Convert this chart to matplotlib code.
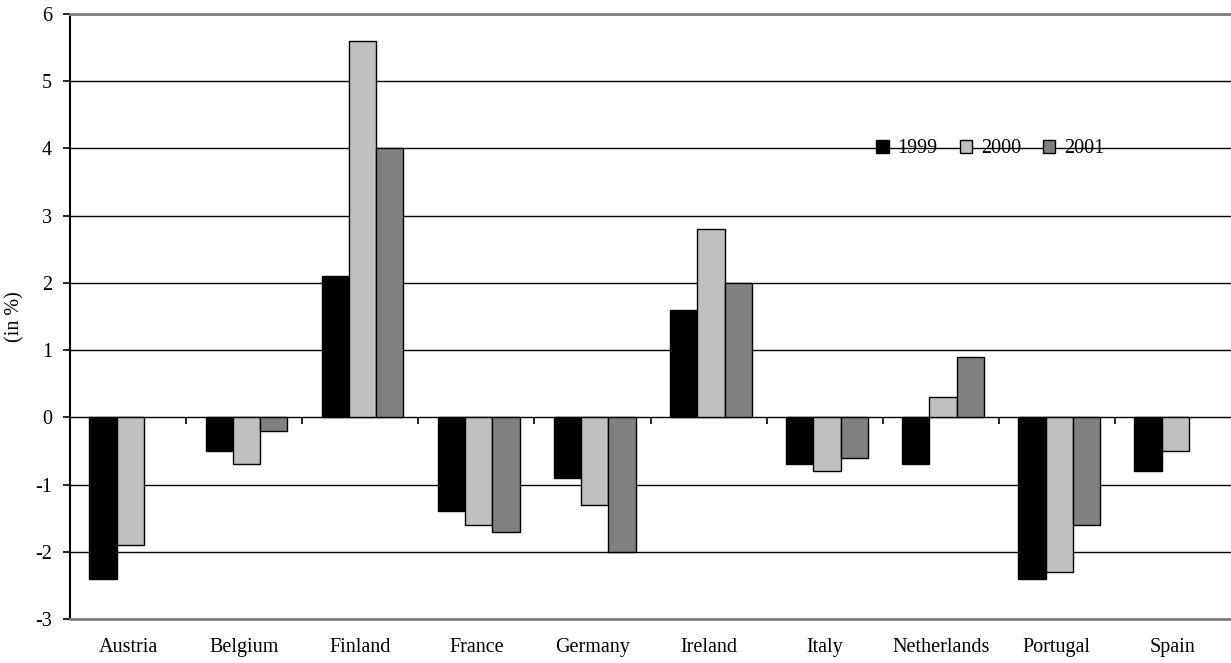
import numpy as np
import matplotlib
matplotlib.use("Agg")
import matplotlib.pyplot as plt

countries = ["Austria", "Belgium", "Finland", "France", "Germany",
             "Ireland", "Italy", "Netherlands", "Portugal", "Spain"]
years = ["1999", "2000", "2001"]
v1999 = [-2.4, -0.5, 2.1, -1.4, -0.9, 1.6, -0.7, -0.7, -2.4, -0.8]
v2000 = [-1.9, -0.7, 5.6, -1.6, -1.3, 2.8, -0.8, 0.3, -2.3, -0.5]
v2001 = [np.nan, -0.2, 4.0, -1.7, -2.0, 2.0, -0.6, 0.9, -1.6, np.nan]
colors = ["#000000", "#C0C0C0", "#808080"]

plt.rcParams["font.family"] = ["Liberation Serif", "DejaVu Serif"]
plt.rcParams["font.size"] = 14.5
plt.rcParams["axes.unicode_minus"] = False

fig = plt.figure(figsize=(12.31, 6.63), dpi=100)
ax = fig.add_axes([70 / 1231, 1 - 619 / 663, 1 - 70 / 1231, 605 / 663])

x = np.arange(len(countries))
width = 0.235
for i, (vals, year) in enumerate(zip([v1999, v2000, v2001], years)):
    ax.bar(x + (i - 1) * width + 0.02, vals, width, color=colors[i],
           edgecolor="black", linewidth=1.0, label=year, zorder=3)

ax.set_xlim(-0.5, len(countries) - 0.5)
ax.set_ylim(-3, 6)
ax.set_yticks(range(-3, 7))
ax.yaxis.grid(True, color="black", linewidth=1.0)
ax.set_axisbelow(True)
ax.tick_params(axis="y", direction="out", length=5, width=1.2, pad=8)
ax.set_ylabel("(in %)")
ax.yaxis.set_label_coords(-0.039, 0.5)

ax.set_xticks(x)
ax.set_xticklabels(countries)
ax.tick_params(axis="x", length=0, pad=14)

for side in ["top", "bottom"]:
    ax.spines[side].set_color("#808080")
    ax.spines[side].set_linewidth(2)
ax.spines["right"].set_visible(False)
ax.spines["left"].set_linewidth(1.5)

# category tick marks on the zero line
sec = ax.secondary_xaxis(3 / 9)
sec.set_xticks(np.arange(0.5, len(countries) - 0.5, 1.0))
sec.set_xticklabels([])
sec.tick_params(direction="out", length=5, width=1.2)
sec.spines["bottom"].set_visible(False)

ax.legend(loc="center left", bbox_to_anchor=(0.679, 0.777), ncol=3,
          frameon=False, handlelength=0.6, handleheight=0.6,
          handletextpad=0.45, columnspacing=1.1)

fig.savefig("out.png", dpi=100)
